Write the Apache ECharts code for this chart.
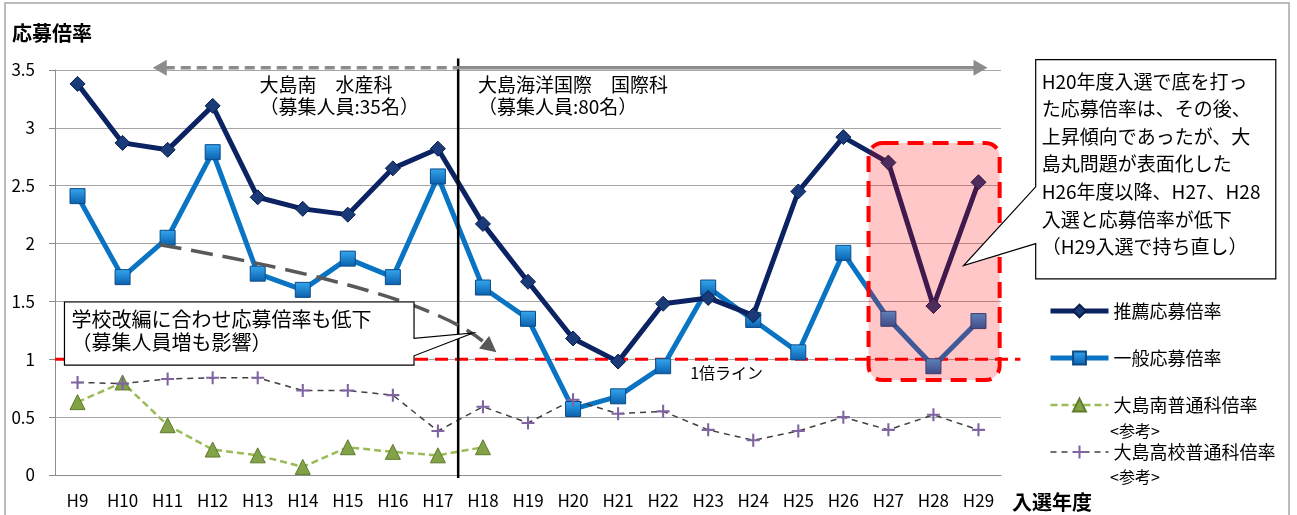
<!DOCTYPE html>
<html lang="ja">
<head>
<meta charset="UTF-8">
<script src="https://cdn.jsdelivr.net/npm/echarts@6.0.0/dist/echarts.min.js"></script>
<title>応募倍率</title>
<style>
  html, body { margin: 0; padding: 0; background: #fff; }
  #main { width: 1297px; height: 515px; }
</style>
</head>
<body>
<div id="main"></div>
<script>
// 入選年度
var years = ['H9', 'H10', 'H11', 'H12', 'H13', 'H14', 'H15', 'H16', 'H17', 'H18', 'H19',
             'H20', 'H21', 'H22', 'H23', 'H24', 'H25', 'H26', 'H27', 'H28', 'H29'];
// 推薦応募倍率
var suisen = [3.38, 2.87, 2.81, 3.19, 2.40, 2.30, 2.25, 2.65, 2.82, 2.17, 1.67,
              1.18, 0.98, 1.48, 1.53, 1.38, 2.45, 2.92, 2.70, 1.46, 2.53];
// 一般応募倍率
var ippan = [2.41, 1.71, 2.05, 2.79, 1.74, 1.60, 1.87, 1.71, 2.58, 1.62, 1.35,
             0.57, 0.68, 0.94, 1.62, 1.34, 1.06, 1.92, 1.35, 0.94, 1.33];
// 大島南普通科倍率 <参考> (H18まで)
var minami = [0.63, 0.80, 0.43, 0.22, 0.17, 0.07, 0.24, 0.20, 0.17, 0.24, null,
              null, null, null, null, null, null, null, null, null, null];
// 大島高校普通科倍率 <参考>
var koukou = [0.80, 0.79, 0.83, 0.84, 0.84, 0.73, 0.73, 0.69, 0.38, 0.59, 0.45,
              0.65, 0.53, 0.55, 0.39, 0.30, 0.38, 0.50, 0.39, 0.52, 0.39];

var FONT = "'Noto Sans CJK JP', 'Noto Sans', sans-serif";
var plusPath = 'path://M0,4.2H10V5.8H0ZM4.2,0H5.8V10H4.2Z';

var myChart = echarts.init(document.getElementById('main'));
myChart.setOption({
    animation: false,
    backgroundColor: '#fff',
    textStyle: { fontFamily: FONT },
    grid: { left: 55, right: 296, top: 70, bottom: 40 },
    legend: {
        orient: 'vertical',
        left: 1043,
        top: 296,
        itemWidth: 58,
        itemHeight: 16,
        itemGap: 27,
        lineStyle: { width: 'inherit' },
        textStyle: { fontSize: 18, color: '#000', fontFamily: FONT, lineHeight: 20 },
        data: ['推薦応募倍率', '一般応募倍率', '大島南普通科倍率', '大島高校普通科倍率']
    },
    xAxis: {
        type: 'category',
        data: years,
        axisLine: { lineStyle: { color: '#8c8c8c', width: 1 } },
        axisTick: { alignWithLabel: true, length: 6, lineStyle: { color: '#8c8c8c' } },
        axisLabel: { fontSize: 17, color: '#000', margin: 17, fontFamily: FONT }
    },
    yAxis: {
        type: 'value',
        min: 0,
        max: 3.5,
        interval: 0.5,
        axisLine: { show: true, lineStyle: { color: '#8c8c8c', width: 1 } },
        axisTick: { show: true, length: 6, lineStyle: { color: '#8c8c8c' } },
        axisLabel: { fontSize: 17, color: '#000', margin: 20, fontFamily: FONT },
        splitLine: { lineStyle: { color: '#a6a6a6', width: 1 } }
    },
    series: [{
        name: '推薦応募倍率',
        type: 'line',
        data: suisen,
        symbol: 'diamond',
        symbolSize: 15,
        z: 4,
        lineStyle: { color: '#0b2263', width: 5 },
        itemStyle: { color: '#1b3a78', borderColor: '#071a4d', borderWidth: 1 }
    }, {
        name: '一般応募倍率',
        type: 'line',
        data: ippan,
        symbol: 'rect',
        symbolSize: 15,
        z: 3,
        lineStyle: { color: '#0a74c4', width: 5 },
        itemStyle: {
            color: new echarts.graphic.LinearGradient(0, 0, 0, 1, [
                { offset: 0, color: '#35a8ef' }, { offset: 1, color: '#0a5fae' }
            ]),
            borderColor: '#0b4a86', borderWidth: 1
        }
    }, {
        name: '大島南普通科倍率',
        type: 'line',
        data: minami,
        symbol: 'triangle',
        symbolSize: 15,
        z: 3,
        lineStyle: { color: '#9bbb59', width: 2.5, type: [7, 4] },
        itemStyle: { color: '#82a247', borderColor: '#5f7a2e', borderWidth: 1 }
    }, {
        name: '大島高校普通科倍率',
        type: 'line',
        data: koukou,
        symbol: plusPath,
        symbolSize: 13,
        z: 3,
        lineStyle: { color: '#404040', width: 1.5, type: [6, 5] },
        itemStyle: { color: '#8064a2' }
    }]
});

// annotations placed from axis coordinates
var x0 = myChart.convertToPixel({ xAxisIndex: 0 }, 0);
var step = myChart.convertToPixel({ xAxisIndex: 0 }, 1) - x0;
function X(f) { return x0 + f * step; }
function Y(v) { return myChart.convertToPixel({ yAxisIndex: 0 }, v); }

function arrowHead(tx, ty, fx, fy, len, half, color, z) {
    var dx = tx - fx, dy = ty - fy, d = Math.sqrt(dx * dx + dy * dy);
    var ux = dx / d, uy = dy / d;
    var bx = tx - ux * len, by = ty - uy * len;
    return {
        type: 'polygon', z: z,
        shape: { points: [[tx, ty], [bx - uy * half, by + ux * half], [bx + uy * half, by - ux * half]] },
        style: { fill: color }
    };
}

var divX = X(8.45);
var topY = Y(3.52);
var leftTip = X(1.67), rightTip = X(20.2);

// 学校改編 callout
var c1L = X(-0.29), c1R = X(7.47), c1T = Y(1.495), c1B = Y(0.95);
// right callout
var c2L = X(21.27), c2R = X(26.6), c2T = Y(3.59), c2B = Y(1.695);

// curved arrow
var cs = [X(1.82), Y(1.99)], cc = [X(7.6), Y(1.6)], ce = [X(9.3), Y(1.06)];
var ce2 = [ce[0] - (ce[0] - cc[0]) * 0.18, ce[1] - (ce[1] - cc[1]) * 0.18];

var graphics = [
    // outer frame
    { type: 'rect', z: 0, shape: { x: 5, y: 3, width: 1284, height: 520 },
      style: { fill: null, stroke: '#a6a6a6', lineWidth: 1.5 } },
    // axis titles
    { type: 'text', z: 10, x: 12, y: 33,
      style: { text: '応募倍率', font: 'bold 20px ' + FONT, fill: '#000', verticalAlign: 'middle' } },
    { type: 'text', z: 10, x: 1012, y: 502,
      style: { text: '入選年度', font: 'bold 20px ' + FONT, fill: '#000', verticalAlign: 'middle' } },
    // 1倍ライン
    { type: 'line', z: 1, shape: { x1: X(-0.5), y1: Y(1), x2: X(20.93), y2: Y(1) },
      style: { stroke: '#ff0000', lineWidth: 3, lineDash: [13, 7] } },
    { type: 'text', z: 10, x: X(13.6), y: Y(0.88),
      style: { text: '1倍ライン', font: '16px ' + FONT, fill: '#000', verticalAlign: 'middle' } },
    // divider
    { type: 'line', z: 6, shape: { x1: divX, y1: Y(3.6), x2: divX, y2: Y(0) + 3 },
      style: { stroke: '#000', lineWidth: 2.5 } },
    // top arrows
    { type: 'line', z: 6, shape: { x1: leftTip + 12, y1: topY, x2: divX, y2: topY },
      style: { stroke: '#8c8c8c', lineWidth: 3.5, lineDash: [10, 6] } },
    arrowHead(leftTip, topY, leftTip + 20, topY, 14, 8, '#8c8c8c', 6),
    { type: 'line', z: 6, shape: { x1: divX, y1: topY, x2: rightTip - 12, y2: topY },
      style: { stroke: '#8c8c8c', lineWidth: 3.5 } },
    arrowHead(rightTip, topY, rightTip - 20, topY, 14, 8, '#8c8c8c', 6),
    // section labels
    { type: 'text', z: 10, x: X(4.04), y: Y(3.5) + 4,
      style: { text: '大島南　水産科\n（募集人員:35名）', font: '19px ' + FONT, fill: '#000', lineHeight: 22 } },
    { type: 'text', z: 10, x: X(8.89), y: Y(3.5) + 4,
      style: { text: '大島海洋国際　国際科\n（募集人員:80名）', font: '19px ' + FONT, fill: '#000', lineHeight: 22 } },
    // curved dashed arrow
    { type: 'bezierCurve', z: 6,
      shape: { x1: cs[0], y1: cs[1], cpx1: cc[0], cpy1: cc[1], x2: ce2[0], y2: ce2[1] },
      style: { stroke: '#595959', lineWidth: 3.5, lineDash: [22, 10], fill: null } },
    arrowHead(ce[0], ce[1], cc[0], cc[1], 16, 8, '#595959', 6),
    // highlight box H27-H29
    { type: 'rect', z: 20,
      shape: { x: X(17.56), y: Y(2.87), width: X(20.47) - X(17.56), height: Y(0.82) - Y(2.87), r: 14 },
      style: { fill: 'rgba(255,0,0,0.22)', stroke: '#ff0000', lineWidth: 4, lineDash: [16, 9] } },
    // callout 1
    { type: 'polygon', z: 30,
      shape: { points: [[c1L, c1T], [c1R, c1T], [c1R, Y(1.18)], [X(8.78), Y(1.227)], [c1R, Y(1.03)], [c1R, c1B], [c1L, c1B]] },
      style: { fill: '#fff', stroke: '#000', lineWidth: 1.2 } },
    { type: 'text', z: 31, x: c1L + 7, y: c1T + 6,
      style: { text: '学校改編に合わせ応募倍率も低下\n（募集人員増も影響）', font: '20px ' + FONT, fill: '#000', lineHeight: 23 } },
    // callout 2
    { type: 'polygon', z: 30,
      shape: { points: [[c2L, c2T], [c2R, c2T], [c2R, c2B], [c2L, c2B], [c2L, Y(2.0)], [X(19.67), Y(1.81)], [c2L, Y(2.49)]] },
      style: { fill: '#fff', stroke: '#000', lineWidth: 1.2 } },
    { type: 'text', z: 31, x: c2L + 6, y: c2T + 8,
      style: { text: 'H20年度入選で底を打っ\nた応募倍率は、その後、\n上昇傾向であったが、大\n島丸問題が表面化した\nH26年度以降、H27、H28\n入選と応募倍率が低下\n（H29入選で持ち直し）',
               font: '19px ' + FONT, fill: '#000', lineHeight: 27.6 } },
    // legend notes
    { type: 'text', z: 10, x: 1110, y: 431,
      style: { text: '<参考>', font: '16px ' + FONT, fill: '#000', verticalAlign: 'middle' } },
    { type: 'text', z: 10, x: 1110, y: 477,
      style: { text: '<参考>', font: '16px ' + FONT, fill: '#000', verticalAlign: 'middle' } }
];

myChart.setOption({ graphic: { elements: graphics } });
</script>
</body>
</html>
